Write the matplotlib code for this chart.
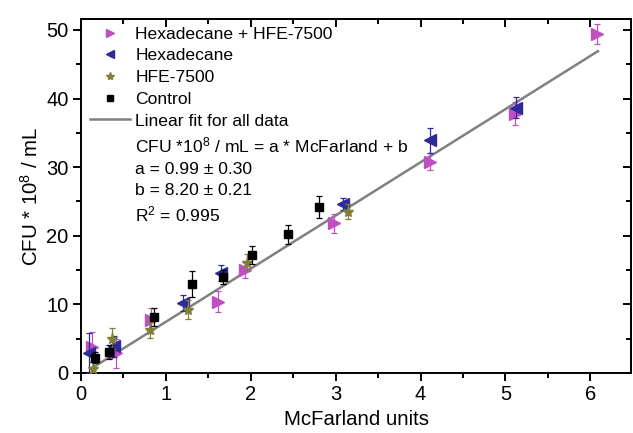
import matplotlib
matplotlib.use("Agg")
import matplotlib.pyplot as plt
from matplotlib.lines import Line2D
from matplotlib.ticker import MultipleLocator
import numpy as np

plt.rcParams['font.family'] = ['Liberation Sans', 'DejaVu Sans']
plt.rcParams['mathtext.default'] = 'regular'

# ---- data ----
mix_x = [0.13, 0.41, 0.83, 1.61, 1.93, 2.98, 4.11, 5.11, 6.08]
mix_y = [3.8, 2.9, 7.7, 10.4, 15.0, 21.8, 30.8, 37.8, 49.4]
mix_err = [2.2, 2.1, 1.8, 1.5, 1.2, 1.4, 1.2, 1.7, 1.45]

hex_x = [0.10, 0.39, 1.20, 1.65, 3.09, 4.11, 5.13]
hex_y = [2.9, 3.9, 10.2, 14.6, 24.6, 33.9, 38.7]
hex_err = [2.9, 1.5, 1.2, 1.2, 0.9, 1.8, 1.6]

hfe_x = [0.14, 0.37, 0.81, 1.26, 1.96, 3.15]
hfe_y = [0.6, 5.0, 6.3, 9.2, 16.1, 23.5]
hfe_err = [1.0, 1.5, 1.2, 1.4, 1.3, 1.1]

ctrl_x = [0.17, 0.33, 0.86, 1.31, 1.67, 2.01, 2.44, 2.80]
ctrl_y = [2.2, 3.1, 8.2, 13.0, 14.0, 17.2, 20.2, 24.2]
ctrl_err = [0.8, 1.0, 1.3, 1.9, 1.0, 1.3, 1.4, 1.55]

fit_x_range = [0.12, 6.09]
fit_slope = 7.75
fit_intercept = -0.29

labels = ["Hexadecane + HFE-7500", "Hexadecane", "HFE-7500", "Control",
          "Linear fit for all data"]
eq_lines = ["CFU *10$^8$ / mL = a * McFarland + b",
            "a = 0.99 \u00b1 0.30",
            "b = 8.20 \u00b1 0.21",
            "R$^2$ = 0.995"]

c_mix = "#C050C0"
c_hex = "#2E2A9A"
c_hfe = "#7F8034"
c_ctrl = "#000000"
c_fit = "#808080"

fig = plt.figure(figsize=(6.33, 4.33), dpi=100)
ax = fig.add_axes([81/633, 60/433, 550/633, 354/433])

fx = np.array(fit_x_range)
ax.plot(fx, fit_slope*fx + fit_intercept, color=c_fit, lw=1.8, zorder=2)

eb = dict(capsize=2.5, elinewidth=0.9, capthick=0.9, linestyle='none')
ax.errorbar(mix_x, mix_y, yerr=mix_err, marker='>', ms=8, color=c_mix, zorder=3, **eb)
ax.errorbar(hex_x, hex_y, yerr=hex_err, marker='<', ms=8, color=c_hex, zorder=4, **eb)
ax.errorbar(hfe_x, hfe_y, yerr=hfe_err, marker='*', ms=8, color=c_hfe, zorder=5, **eb)
ax.errorbar(ctrl_x, ctrl_y, yerr=ctrl_err, marker='s', ms=6, color=c_ctrl, zorder=6, **eb)

ax.set_xlim(0, 6.48)
ax.set_ylim(0, 51.6)
ax.xaxis.set_major_locator(MultipleLocator(1))
ax.xaxis.set_minor_locator(MultipleLocator(0.5))
ax.yaxis.set_major_locator(MultipleLocator(10))
ax.yaxis.set_minor_locator(MultipleLocator(5))
ax.tick_params(which='both', direction='out', width=1.4, labelsize=14.5, pad=3)
ax.tick_params(which='major', length=6)
ax.tick_params(which='minor', length=3.5)
for s in ax.spines.values():
    s.set_linewidth(1.4)

# mirrored inward ticks on top and right
top = ax.secondary_xaxis('top')
top.xaxis.set_major_locator(MultipleLocator(1))
top.xaxis.set_minor_locator(MultipleLocator(0.5))
top.tick_params(which='both', direction='in', width=1.4, labeltop=False)
top.tick_params(which='major', length=6)
top.tick_params(which='minor', length=3.5)
top.spines['top'].set_linewidth(1.4)
right = ax.secondary_yaxis('right')
right.yaxis.set_major_locator(MultipleLocator(10))
right.yaxis.set_minor_locator(MultipleLocator(5))
right.tick_params(which='both', direction='in', width=1.4, labelright=False)
right.tick_params(which='major', length=6)
right.tick_params(which='minor', length=3.5)
right.spines['right'].set_linewidth(1.4)

ax.set_xlabel("McFarland units", fontsize=14.7, labelpad=4)
ax.set_ylabel("CFU * 10$^8$ / mL", fontsize=14.7, labelpad=3)

handles = [
    Line2D([], [], marker='>', color=c_mix, ls='none', ms=6),
    Line2D([], [], marker='<', color=c_hex, ls='none', ms=6),
    Line2D([], [], marker='*', color=c_hfe, ls='none', ms=6),
    Line2D([], [], marker='s', color=c_ctrl, ls='none', ms=5),
    Line2D([], [], color=c_fit, lw=1.8),
]
for _ in eq_lines:
    handles.append(Line2D([], [], ls='none', marker='none'))
leg = ax.legend(handles, labels + eq_lines, loc='upper left',
                bbox_to_anchor=(0.016, 0.979), frameon=False, fontsize=12.6,
                handlelength=2.3, handletextpad=0.3, labelspacing=0.37,
                borderpad=0, borderaxespad=0)

fig.savefig("out.png", dpi=100)
